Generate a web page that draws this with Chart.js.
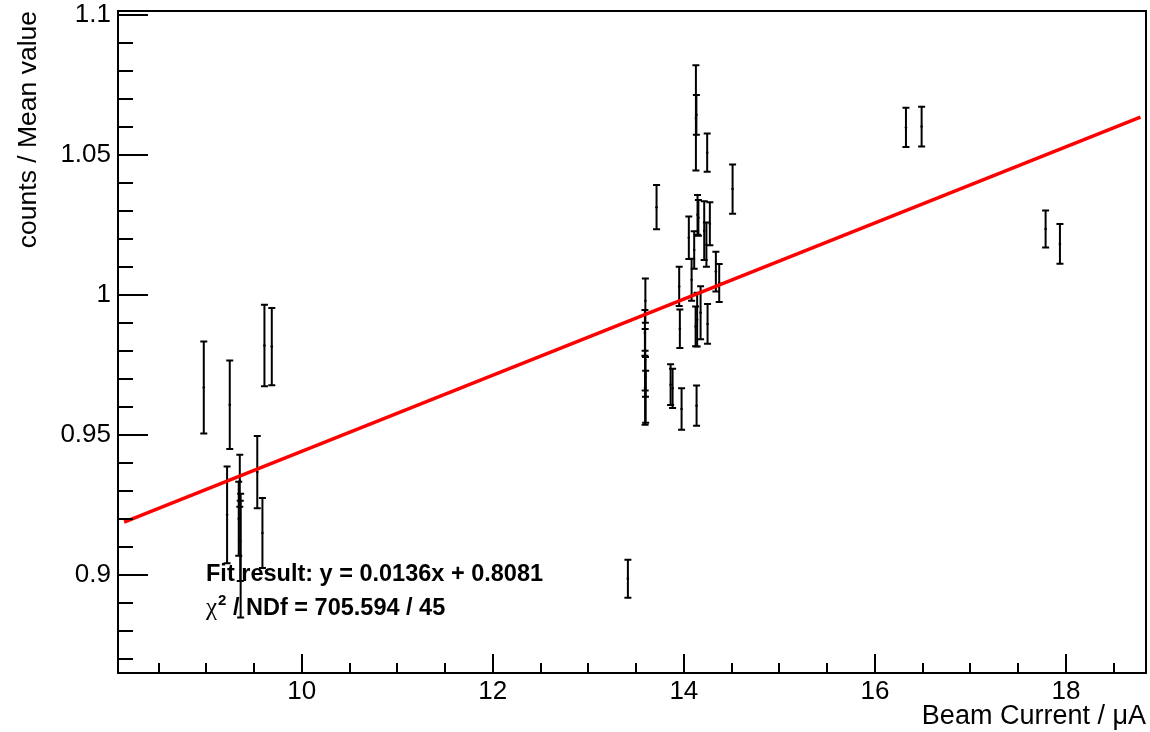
<!DOCTYPE html>
<html>
<head>
<meta charset="utf-8">
<script src="https://cdn.jsdelivr.net/npm/chart.js@4.4.1/dist/chart.umd.min.js"></script>
<style>
  html, body { margin: 0; padding: 0; background: #fff; }
  #wrap { width: 1150px; height: 732px; }
</style>
</head>
<body>
<div id="wrap"><canvas id="myChart" width="1150" height="732"></canvas></div>
<script>
// beam current (uA), normalised counts and their errors
const current = [
  8.974, 9.246, 9.609, 9.686, 9.218, 9.534, 9.588, 9.351, 9.340, 9.356, 9.360,
  13.414, 13.597, 13.592, 13.598, 13.594, 13.600, 13.595, 13.714, 13.861, 13.882,
  13.951, 13.958, 13.976, 14.052, 14.081, 14.108, 14.123, 14.126, 14.131, 14.133,
  14.139, 14.143, 14.152, 14.175, 14.213, 14.236, 14.244, 14.248, 14.272, 14.335,
  14.370, 14.510, 16.325, 16.489, 17.787, 17.937
];
const ratio = [
  0.9669, 0.9607, 0.9819, 0.9815, 0.9214, 0.9367, 0.9149, 0.9336, 0.9200, 0.9121, 0.9068,
  0.8986, 0.9979, 0.9864, 0.9707, 0.9668, 0.9636, 0.9768, 1.0313, 0.9679, 0.9666,
  1.0030, 0.9879, 0.9592, 1.0204, 1.0054, 1.0160, 0.9887, 1.0632, 1.0643, 0.9604,
  0.9911, 1.0286, 1.0275, 0.9936, 1.0229, 1.0179, 1.0508, 0.9896, 1.0254, 1.0083,
  1.0042, 1.0378, 1.0598, 1.0601, 1.0235, 1.0182
];
const ratioErr = [
  0.0164, 0.0158, 0.0146, 0.0138, 0.0173, 0.0129, 0.0125, 0.0093, 0.0132, 0.0143, 0.0221,
  0.0068, 0.0079, 0.0082, 0.0071, 0.0132, 0.0093, 0.0110, 0.0079, 0.0073, 0.0070,
  0.0070, 0.0069, 0.0074, 0.0076, 0.0075, 0.0067, 0.0071, 0.0188, 0.0071, 0.0072,
  0.0096, 0.0071, 0.0064, 0.0095, 0.0105, 0.0079, 0.0068, 0.0071, 0.0077, 0.0071,
  0.0068, 0.0088, 0.0070, 0.0071, 0.0066, 0.0071
];

// fitted line end points
const fitX = [8.14, 18.78];
const fitY = [0.9188, 1.0635];

const xTicks = [10, 12, 14, 16, 18];
const xTickLabels = ['10', '12', '14', '16', '18'];
const yTicks = [0.9, 0.95, 1, 1.05, 1.1];
const yTickLabels = ['0.9', '0.95', '1', '1.05', '1.1'];

const fitText = 'Fit result: y = 0.0136x + 0.8081';
const chiText = ' / NDf = 705.594 / 45';

const FONT = '"Liberation Sans", Arial, Helvetica, sans-serif';

const rootStyle = {
  id: 'rootStyle',
  beforeDatasetsDraw(chart) {
    const { ctx, chartArea: a, scales: { x, y } } = chart;
    ctx.save();
    // fit box text
    ctx.fillStyle = '#000';
    ctx.textBaseline = 'alphabetic';
    ctx.textAlign = 'left';
    let tx = a.left + 88;
    ctx.font = 'bold 23.5px ' + FONT;
    ctx.fillText(fitText, tx, a.top + 570);
    ctx.font = '25px "Liberation Serif", serif';
    ctx.fillText('χ', tx, a.top + 604);
    tx += ctx.measureText('χ').width + 1;
    ctx.font = 'bold 15px ' + FONT;
    ctx.fillText('2', tx, a.top + 594);
    tx += ctx.measureText('2').width;
    ctx.font = 'bold 23.5px ' + FONT;
    ctx.fillText(chiText, tx, a.top + 604);

    // error bars
    ctx.beginPath();
    ctx.rect(a.left, a.top, a.width, a.height);
    ctx.clip();
    ctx.strokeStyle = '#000';
    current.forEach((c, i) => {
      const px = x.getPixelForValue(c);
      const hi = y.getPixelForValue(ratio[i] + ratioErr[i]);
      const lo = y.getPixelForValue(ratio[i] - ratioErr[i]);
      ctx.lineWidth = 2;
      ctx.beginPath();
      ctx.moveTo(px, hi);
      ctx.lineTo(px, lo);
      ctx.stroke();
      ctx.lineWidth = 2;
      ctx.beginPath();
      ctx.moveTo(px - 3.5, hi); ctx.lineTo(px + 3.5, hi);
      ctx.moveTo(px - 3.5, lo); ctx.lineTo(px + 3.5, lo);
      ctx.stroke();
    });
    ctx.restore();
  },
  afterDraw(chart) {
    const { ctx, chartArea: a, scales: { x, y } } = chart;
    ctx.save();
    ctx.strokeStyle = '#000';
    ctx.lineWidth = 2;
    ctx.strokeRect(a.left, a.top, a.width, a.height);
    ctx.beginPath();
    // x ticks, minor every 0.5
    for (let k = Math.ceil(x.min * 2); k <= Math.floor(x.max * 2); k++) {
      const px = Math.round(x.getPixelForValue(k / 2));
      const len = k % 4 === 0 ? 19 : 10;
      ctx.moveTo(px, a.bottom);
      ctx.lineTo(px, a.bottom - len);
    }
    // y ticks, minor every 0.01
    for (let k = Math.ceil(y.min * 100); k <= Math.floor(y.max * 100); k++) {
      const py = Math.round(y.getPixelForValue(k / 100));
      const len = k % 5 === 0 ? 30 : 15;
      ctx.moveTo(a.left, py);
      ctx.lineTo(a.left + len, py);
    }
    ctx.stroke();
    ctx.restore();
  }
};

const ctx = document.getElementById('myChart').getContext('2d');
new Chart(ctx, {
  type: 'scatter',
  data: {
    datasets: [
      {
        type: 'line',
        data: fitX.map((v, i) => ({ x: v, y: fitY[i] })),
        borderColor: '#ff0000',
        borderWidth: 3.5,
        pointRadius: 0,
        fill: false
      },
      {
        data: current.map((v, i) => ({ x: v, y: ratio[i] })),
        pointRadius: 1.3,
        backgroundColor: '#000',
        borderWidth: 0
      }
    ]
  },
  options: {
    responsive: false,
    animation: false,
    layout: { padding: { top: 11, right: 4, left: 0, bottom: 0 }, autoPadding: false },
    plugins: { legend: { display: false }, tooltip: { enabled: false } },
    scales: {
      x: {
        type: 'linear',
        position: 'bottom',
        min: 8.076,
        max: 18.838,
        grid: { display: false, drawTicks: false },
        border: { display: false },
        afterBuildTicks: s => { s.ticks = xTicks.map(v => ({ value: v })); },
        afterFit: s => { s.height = 59; s.paddingLeft = 0; s.paddingRight = 0; },
        ticks: {
          padding: 6,
          color: '#000',
          maxRotation: 0,
          autoSkip: false,
          font: { family: FONT, size: 26, lineHeight: 1 },
          callback: (v, i) => xTickLabels[i]
        },
        title: {
          display: true,
          text: 'Beam Current / μA',
          align: 'end',
          color: '#000',
          font: { family: FONT, size: 27, lineHeight: 1 },
          padding: { top: 0, bottom: 2 }
        }
      },
      y: {
        type: 'linear',
        min: 0.8649,
        max: 1.1014,
        grid: { display: false, drawTicks: false },
        border: { display: false },
        afterBuildTicks: s => { s.ticks = yTicks.map(v => ({ value: v })); },
        afterFit: s => { s.width = 118; s.paddingTop = 0; s.paddingBottom = 0; },
        ticks: {
          padding: 7,
          color: '#000',
          autoSkip: false,
          font: { family: FONT, size: 26, lineHeight: 1 },
          callback: (v, i) => yTickLabels[i]
        },
        title: {
          display: true,
          text: 'counts / Mean value',
          align: 'end',
          color: '#000',
          font: { family: FONT, size: 26.5, lineHeight: 1 },
          padding: { top: 15, bottom: 0 }
        }
      }
    }
  },
  plugins: [rootStyle]
});
</script>
</body>
</html>
